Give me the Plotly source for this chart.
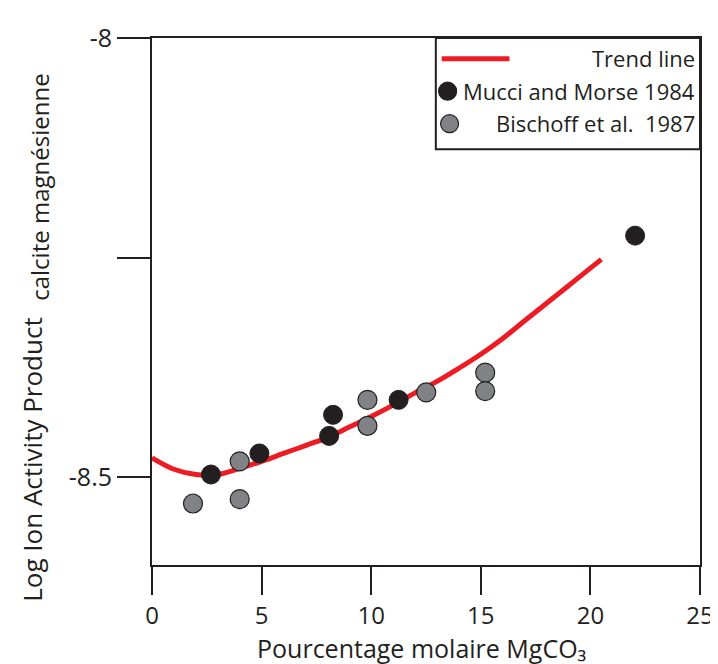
import plotly.graph_objects as go

# ---- data ----
trend_x = [0, 1, 2, 3, 4, 5, 6, 7, 8, 9, 10, 11, 12, 13, 14, 15, 16, 17, 18, 19, 20, 20.5]
trend_y = [-8.478, -8.491, -8.497, -8.497, -8.490, -8.482, -8.473, -8.464, -8.455, -8.443,
           -8.431, -8.418, -8.404, -8.391, -8.376, -8.360, -8.342, -8.322, -8.302, -8.282,
           -8.262, -8.252]

mucci_x = [2.69, 4.90, 8.26, 8.08, 11.25, 22.04]
mucci_y = [-8.497, -8.473, -8.429, -8.453, -8.412, -8.225]

bischoff_x = [1.87, 4.0, 4.0, 9.83, 9.83, 12.51, 15.2, 15.2]
bischoff_y = [-8.530, -8.482, -8.525, -8.412, -8.4415, -8.4035, -8.381, -8.402]

x_ticks = [0, 5, 10, 15, 20, 25]
x_tick_labels = ["0", "5", "10", "15", "20", "25"]
y_ticks = [-8.0, -8.25, -8.5]
y_tick_labels = ["-8", "", "-8.5"]

legend_labels = ["Trend line", "Mucci and Morse 1984", "Bischoff et al.\u00a0\u00a01987"]

# ---- style ----
FONT = "Open Sans"
DARK = "#231f20"
RED = "#ed1c24"
GRAY = "#808285"

fig = go.Figure()
fig.add_trace(go.Scatter(x=trend_x, y=trend_y, mode="lines", line=dict(color=RED, width=5, shape="spline"),
                         name=legend_labels[0], showlegend=False, hoverinfo="skip"))
fig.add_trace(go.Scatter(x=mucci_x, y=mucci_y, mode="markers",
                         marker=dict(size=19, color=DARK, line=dict(color=DARK, width=1)),
                         name=legend_labels[1], showlegend=False))
fig.add_trace(go.Scatter(x=bischoff_x, y=bischoff_y, mode="markers",
                         marker=dict(size=19, color=GRAY, line=dict(color=DARK, width=1.2)),
                         name=legend_labels[2], showlegend=False))

L, R, T, B = 144, 16, 22, 107
W, H = 718, 664
pw, ph = W - L - R, H - T - B

def px(x):
    return (x - L) / pw

def py(y):
    return (H - B - y) / ph

shapes = []
# legend box
shapes.append(dict(type="rect", xref="paper", yref="paper", x0=px(433), x1=1.0, y0=py(135), y1=1.0,
                   line=dict(color=DARK, width=2), fillcolor="white", layer="above"))
# legend red line
shapes.append(dict(type="line", xref="paper", yref="paper", x0=px(439), x1=px(508), y0=py(43), y1=py(43),
                   line=dict(color=RED, width=5), layer="above"))
# legend markers
for cx, cy, col in [(445, 76, DARK), (447, 109, GRAY)]:
    shapes.append(dict(type="circle", xref="paper", yref="paper", xsizemode="pixel", ysizemode="pixel",
                       xanchor=px(cx), yanchor=py(cy), x0=-9, x1=9, y0=-9, y1=9,
                       fillcolor=col, line=dict(color=DARK, width=1.2), layer="above"))

annotations = []
for lab, yy in zip(legend_labels, [42, 76, 108]):
    annotations.append(dict(text=lab, xref="paper", yref="paper", x=px(699), y=py(yy), xanchor="right",
                            yanchor="middle", showarrow=False, font=dict(family=FONT, size=22, color=DARK)))

# axis titles
annotations.append(dict(text="Pourcentage molaire MgCO\u2083", xref="paper", yref="paper",
                        x=px(418), y=py(641), xanchor="center", yanchor="middle", showarrow=False,
                        font=dict(family=FONT, size=25, color=DARK)))
annotations.append(dict(text="Log Ion Activity Product", xref="paper", yref="paper", textangle=-90,
                        x=px(21), y=py(450), xanchor="center", yanchor="middle", showarrow=False,
                        font=dict(family=FONT, size=26, color=DARK)))
annotations.append(dict(text="calcite magnésienne", xref="paper", yref="paper", textangle=-90,
                        x=px(30), y=py(174), xanchor="center", yanchor="middle", showarrow=False,
                        font=dict(family=FONT, size=24, color=DARK)))

fig.update_layout(
    width=W, height=H,
    margin=dict(l=L, r=R, t=T, b=B, pad=0),
    paper_bgcolor="white", plot_bgcolor="white",
    showlegend=False,
    shapes=shapes, annotations=annotations,
    font=dict(family=FONT, color=DARK),
    xaxis=dict(range=[0, 25], tickvals=x_ticks, ticktext=x_tick_labels, ticks="outside", ticklen=28,
               tickwidth=2, tickcolor=DARK, showline=True, linecolor=DARK, linewidth=2, mirror=True,
               showgrid=False, zeroline=False, tickfont=dict(family=FONT, size=24, color=DARK)),
    yaxis=dict(range=[-8.6, -8.0], tickvals=y_ticks, ticktext=y_tick_labels, ticks="outside", ticklen=33,
               tickwidth=2, tickcolor=DARK, showline=True, linecolor=DARK, linewidth=2, mirror=True,
               showgrid=False, zeroline=False, tickfont=dict(family=FONT, size=25, color=DARK)),
)

fig.write_html("out.html")
